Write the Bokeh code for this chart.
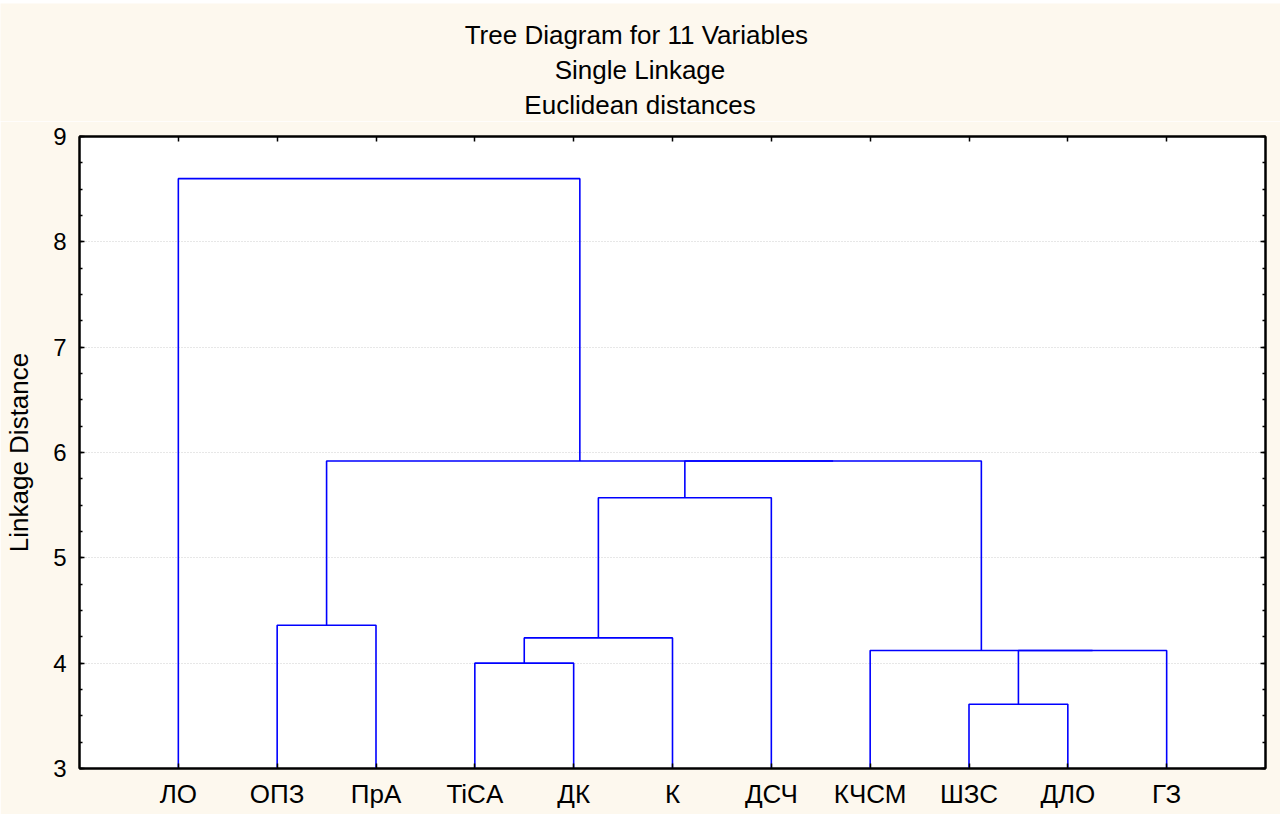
from bokeh.plotting import figure
from bokeh.layouts import column
from bokeh.models import Label, LinearAxis, SingleIntervalTicker, FixedTicker, Range1d, CustomJSTickFormatter
from bokeh.embed import file_html
from bokeh.resources import INLINE

# ---- data ----
labels = ["ЛО", "ОПЗ", "ПрА", "TiCA", "ДК", "К", "ДСЧ", "КЧСМ", "ШЗС", "ДЛО", "ГЗ"]
# merges (cluster ids: leaves 0..10, merge k creates id 11+k)
merge_left = [8, 3, 11, 7, 12, 1, 15, 17, 16, 0]
merge_right = [9, 4, 10, 13, 5, 2, 6, 14, 18, 19]
merge_height = [3.61, 4.00, 4.12, 4.12, 4.24, 4.36, 5.57, 5.92, 5.92, 8.60]
y_min, y_max = 3, 9
title_lines = ["Tree Diagram for 11  Variables", "Single Linkage", "Euclidean distances"]
y_label = "Linkage Distance"

FONT = "Liberation Sans"
BLUE = "#0000FF"
BG = "#fdf8ee"
W = 1280
TITLE_H = 118
TOP_GAP = 136 - 3 - TITLE_H  # space between title band and plot frame

n = len(labels)
pos = {i: i + 1 for i in range(n)}
hgt = {i: y_min for i in range(n)}
xs, ys = [], []
for k, (l, r, h) in enumerate(zip(merge_left, merge_right, merge_height)):
    xs.append([pos[l], pos[l], pos[r], pos[r]])
    ys.append([hgt[l], h, h, hgt[r]])
    pos[n + k] = (pos[l] + pos[r]) / 2
    hgt[n + k] = h

# ---- title band ----
t = figure(width=W, height=TITLE_H, x_range=Range1d(0, W), y_range=Range1d(TITLE_H, 0),
           output_backend="svg", toolbar_location=None, x_axis_type=None, y_axis_type=None,
           min_border=0, min_border_left=0, min_border_right=0, min_border_top=0, min_border_bottom=0,
           background_fill_color=BG, border_fill_color=BG, outline_line_color=None)
t.frame_align = False
t.xgrid.visible = False
t.ygrid.visible = False
t.margin = (3, 3, 0, 0)
for line, base in zip(title_lines, [31.5, 66.8, 101.8]):
    t.add_layout(Label(x=W / 2 - 0.5, y=base, text=line, text_align="center",
                       text_baseline="alphabetic", text_font=FONT, text_font_size="26px",
                       text_color="black"))

# ---- dendrogram ----
p = figure(width=W, height=811 - TITLE_H, x_range=Range1d(0, n + 1), y_range=Range1d(y_min, y_max),
           output_backend="svg", toolbar_location=None,
           min_border_left=79, min_border_right=15, min_border_top=TOP_GAP, min_border_bottom=46,
           background_fill_color="white", border_fill_color=BG,
           outline_line_color="black", outline_line_width=2)
p.frame_align = False
p.margin = (0, 3, 0, 0)

p.multi_line(xs, ys, line_color=BLUE, line_width=1.6)

xticker = FixedTicker(ticks=list(range(1, n + 1)))
overrides = {i + 1: lab for i, lab in enumerate(labels)}
blank = CustomJSTickFormatter(code="return ''")

def style_x(ax, show):
    ax.ticker = xticker
    ax.axis_line_color = "black"
    ax.axis_line_width = 2
    ax.major_tick_in = 5
    ax.major_tick_out = 0
    ax.minor_tick_in = 0
    ax.minor_tick_out = 0
    ax.major_tick_line_color = "black"
    ax.major_tick_line_width = 1.5
    if show:
        ax.major_label_overrides = overrides
        ax.major_label_text_font = FONT
        ax.major_label_text_font_size = "26px"
        ax.major_label_text_color = "black"
        ax.major_label_standoff = 10
    else:
        ax.formatter = blank
        ax.major_label_standoff = 0

def style_y(ax, show):
    ax.ticker = SingleIntervalTicker(interval=1, num_minor_ticks=4)
    ax.axis_line_color = "black"
    ax.axis_line_width = 2
    ax.major_tick_in = 5
    ax.major_tick_out = 0
    ax.minor_tick_in = 3
    ax.minor_tick_out = 0
    ax.major_tick_line_color = "black"
    ax.minor_tick_line_color = "black"
    ax.major_tick_line_width = 1.5
    ax.minor_tick_line_width = 1.5
    if show:
        ax.major_label_text_font = FONT
        ax.major_label_text_font_size = "24px"
        ax.major_label_text_color = "black"
        ax.major_label_standoff = 13
        ax.axis_label = y_label
        ax.axis_label_text_font = FONT
        ax.axis_label_text_font_size = "26px"
        ax.axis_label_text_font_style = "normal"
        ax.axis_label_text_color = "black"
        ax.axis_label_standoff = 16
    else:
        ax.formatter = blank
        ax.major_label_standoff = 0

style_x(p.xaxis[0], True)
style_y(p.yaxis[0], True)
top = LinearAxis()
style_x(top, False)
p.add_layout(top, "above")
right = LinearAxis()
style_y(right, False)
p.add_layout(right, "right")

p.xgrid.grid_line_color = None
p.ygrid.ticker = SingleIntervalTicker(interval=1)
p.ygrid.grid_line_color = "#cfcfcf"
p.ygrid.grid_line_dash = "1 2"
p.ygrid.grid_line_width = 1

layout = column(t, p, spacing=0)
open("out.html", "w").write(file_html(layout, INLINE))
